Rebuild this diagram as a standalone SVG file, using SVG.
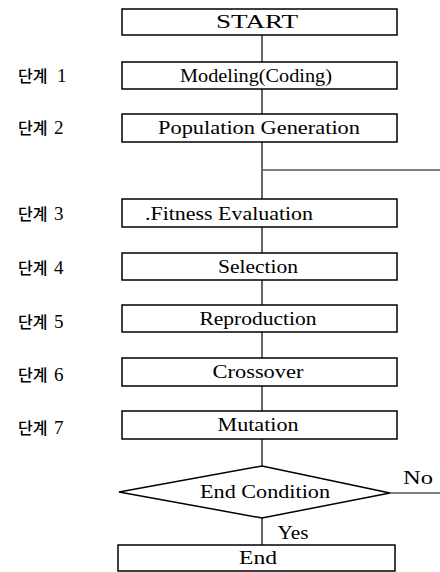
<svg xmlns="http://www.w3.org/2000/svg" width="440" height="572" viewBox="0 0 440 572">
<style>
.box{fill:#fff;stroke:#000;stroke-width:1.5}
.ln{fill:none;stroke:#000;stroke-width:1.2}
.t{font-family:"Liberation Serif","DejaVu Serif",serif;font-size:19px;fill:#000;text-anchor:middle}
.lb{font-family:"Noto Sans CJK KR",sans-serif;font-size:16px;font-weight:500;fill:#000}
.n{font-family:"Liberation Serif",serif;font-size:19px;fill:#000}
</style>
<rect width="440" height="572" fill="#fff"/>
<g id="connectors">
<path class="ln" d="M262 35V62M262 89V114M262 142V199M263 170H440M262 227V253M262 280V305M262 332V358M262 386V411M262 439V466M262 518V545M390 493H440"/>
</g>
<g id="start"><rect class="box" x="122" y="9" width="275" height="26"/><text class="t" x="257" y="28" textLength="82" lengthAdjust="spacingAndGlyphs">START</text></g>
<g id="step1"><text class="lb" x="18" y="82">단계</text><text class="n" x="57" y="82">1</text></g>
<g id="modeling"><rect class="box" x="122" y="62" width="275" height="27"/><text class="t" x="256" y="82" textLength="152" lengthAdjust="spacingAndGlyphs">Modeling(Coding)</text></g>
<g id="step2"><text class="lb" x="18" y="134">단계</text><text class="n" x="54" y="134">2</text></g>
<g id="population"><rect class="box" x="122" y="114" width="275" height="28"/><text class="t" x="259" y="134" textLength="202" lengthAdjust="spacingAndGlyphs">Population Generation</text></g>
<g id="step3"><text class="lb" x="18" y="220">단계</text><text class="n" x="54" y="220">3</text></g>
<g id="fitness"><rect class="box" x="122" y="199" width="275" height="28"/><text class="t" x="229" y="220" textLength="168" lengthAdjust="spacingAndGlyphs">.Fitness Evaluation</text></g>
<g id="step4"><text class="lb" x="18" y="274">단계</text><text class="n" x="54" y="274">4</text></g>
<g id="selection"><rect class="box" x="122" y="253" width="275" height="27"/><text class="t" x="258" y="273" textLength="80" lengthAdjust="spacingAndGlyphs">Selection</text></g>
<g id="step5"><text class="lb" x="18" y="328">단계</text><text class="n" x="54" y="328">5</text></g>
<g id="reproduction"><rect class="box" x="122" y="305" width="275" height="27"/><text class="t" x="258" y="325" textLength="117" lengthAdjust="spacingAndGlyphs">Reproduction</text></g>
<g id="step6"><text class="lb" x="18" y="381">단계</text><text class="n" x="54" y="381">6</text></g>
<g id="crossover"><rect class="box" x="122" y="358" width="275" height="28"/><text class="t" x="258" y="378" textLength="91" lengthAdjust="spacingAndGlyphs">Crossover</text></g>
<g id="step7"><text class="lb" x="18" y="434">단계</text><text class="n" x="54" y="434">7</text></g>
<g id="mutation"><rect class="box" x="122" y="411" width="275" height="28"/><text class="t" x="258" y="431" textLength="81" lengthAdjust="spacingAndGlyphs">Mutation</text></g>
<g id="endcondition"><polygon class="box" points="262,466 390,493 262,518 119,492"/><text class="t" x="265" y="498" textLength="130" lengthAdjust="spacingAndGlyphs">End Condition</text></g>
<g id="labels"><text class="t" x="293" y="539" textLength="31" lengthAdjust="spacingAndGlyphs">Yes</text><text class="t" x="418" y="484" textLength="30" lengthAdjust="spacingAndGlyphs">No</text></g>
<g id="end"><rect class="box" x="118" y="545" width="277" height="26"/><text class="t" x="258" y="564" textLength="38" lengthAdjust="spacingAndGlyphs">End</text></g>
</svg>
